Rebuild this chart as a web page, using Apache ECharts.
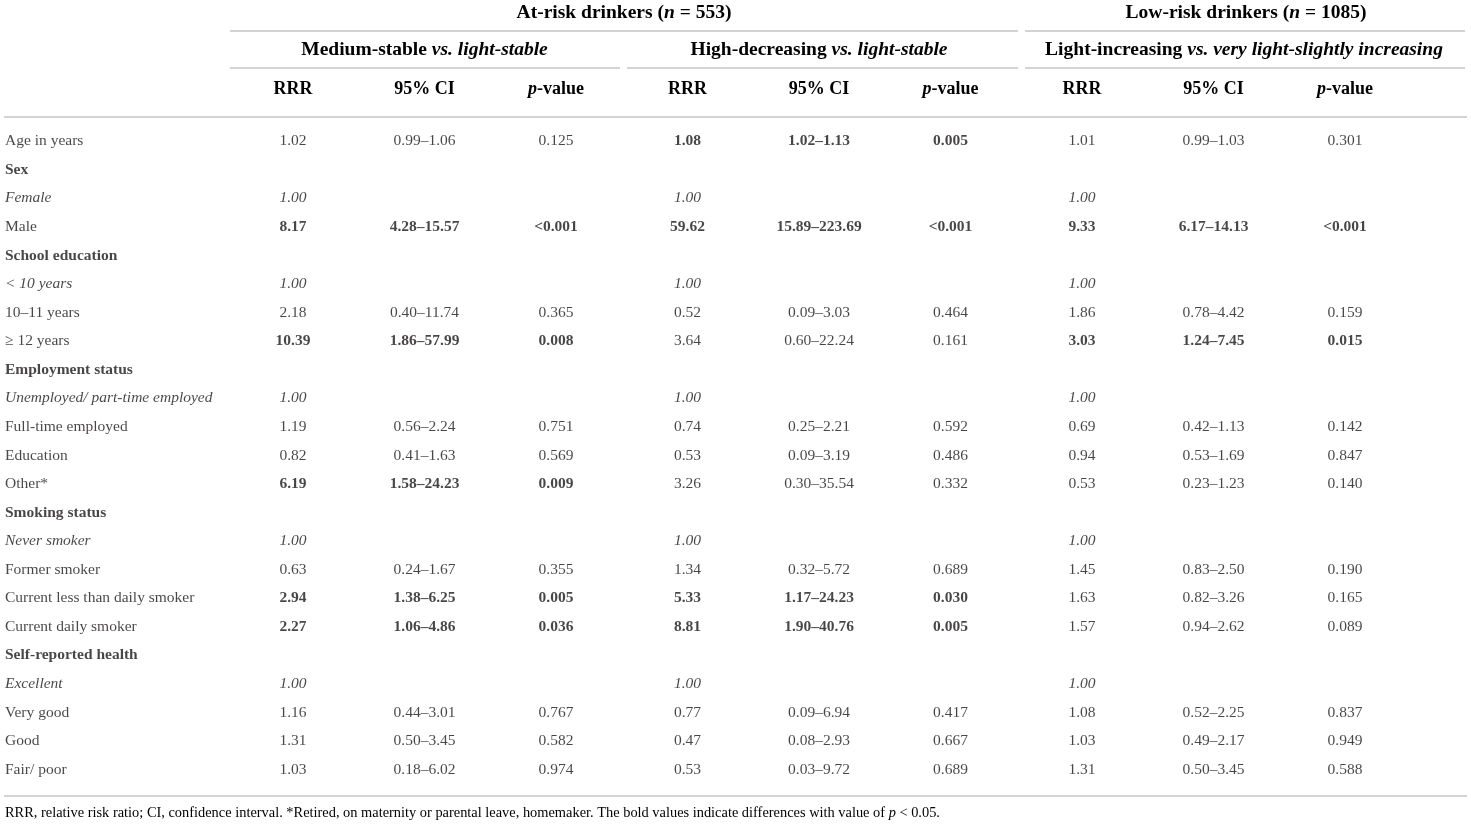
<!DOCTYPE html>
<html>
<head>
<meta charset="utf-8">
<title>Multinomial regression table</title>
<script src="https://cdn.jsdelivr.net/npm/echarts@6/dist/echarts.min.js"></script>
<style>
html,body{margin:0;padding:0;background:#fff;}
#main{width:1471px;height:825px;}
</style>
</head>
<body>
<div id="main"></div>
<script>
// row labels and how they are set (group = bold heading, ref = italic reference level)
var rowLabels = ['Age in years','Sex','Female','Male','School education','< 10 years','10–11 years','≥ 12 years',
	'Employment status','Unemployed/ part-time employed','Full-time employed','Education','Other*',
	'Smoking status','Never smoker','Former smoker','Current less than daily smoker','Current daily smoker',
	'Self-reported health','Excellent','Very good','Good','Fair/ poor'];
var rowKinds = ['item','group','ref','item','group','ref','item','item',
	'group','ref','item','item','item',
	'group','ref','item','item','item',
	'group','ref','item','item','item'];

var colHeads = ['RRR','95% CI','p-value'];

// Medium-stable vs. light-stable
var rrrA = ['1.02','','1.00','8.17','','1.00','2.18','10.39','','1.00','1.19','0.82','6.19','','1.00','0.63','2.94','2.27','','1.00','1.16','1.31','1.03'];
var ciA  = ['0.99–1.06','','','4.28–15.57','','','0.40–11.74','1.86–57.99','','','0.56–2.24','0.41–1.63','1.58–24.23','','','0.24–1.67','1.38–6.25','1.06–4.86','','','0.44–3.01','0.50–3.45','0.18–6.02'];
var pA   = ['0.125','','','<0.001','','','0.365','0.008','','','0.751','0.569','0.009','','','0.355','0.005','0.036','','','0.767','0.582','0.974'];

// High-decreasing vs. light-stable
var rrrB = ['1.08','','1.00','59.62','','1.00','0.52','3.64','','1.00','0.74','0.53','3.26','','1.00','1.34','5.33','8.81','','1.00','0.77','0.47','0.53'];
var ciB  = ['1.02–1.13','','','15.89–223.69','','','0.09–3.03','0.60–22.24','','','0.25–2.21','0.09–3.19','0.30–35.54','','','0.32–5.72','1.17–24.23','1.90–40.76','','','0.09–6.94','0.08–2.93','0.03–9.72'];
var pB   = ['0.005','','','<0.001','','','0.464','0.161','','','0.592','0.486','0.332','','','0.689','0.030','0.005','','','0.417','0.667','0.689'];

// Light-increasing vs. very light-slightly increasing
var rrrC = ['1.01','','1.00','9.33','','1.00','1.86','3.03','','1.00','0.69','0.94','0.53','','1.00','1.45','1.63','1.57','','1.00','1.08','1.03','1.31'];
var ciC  = ['0.99–1.03','','','6.17–14.13','','','0.78–4.42','1.24–7.45','','','0.42–1.13','0.53–1.69','0.23–1.23','','','0.83–2.50','0.82–3.26','0.94–2.62','','','0.52–2.25','0.49–2.17','0.50–3.45'];
var pC   = ['0.301','','','<0.001','','','0.159','0.015','','','0.142','0.847','0.140','','','0.190','0.165','0.089','','','0.837','0.949','0.588'];

var FONT = '"Liberation Serif", "DejaVu Serif", serif';
var INK = '#1a1718';
var RULE = '#d3d3d3';
var BODY = 15.5;

// column i (0..8) sits at 293 + 131.5*i px
var X0 = 293, STEP = 131.5, W = 1471;
function colX(i){ return X0 + STEP*i; }

function isSig(p){
	if(!p) return false;
	if(p.charAt(0) == '<') return true;
	return parseFloat(p) < 0.05;
}

function cellSeries(col, vals, pvals){
	var data = [];
	for(var r = 0;r<vals.length;r++){
		if(!vals[r]) continue;
		var bold = isSig(pvals[r]);
		var ref = rowKinds[r] == 'ref';
		data.push({
			name: vals[r],
			value: [col, r],
			label: {
				fontWeight: bold ? 'bold' : 'normal',
				fontStyle: ref ? 'italic' : 'normal'
			}
		});
	}
	return {
		type: 'scatter',
		symbolSize: 0,
		silent: true,
		data: data,
		label: {
			show: true,
			position: 'inside',
			align: 'center',
			verticalAlign: 'middle',
			formatter: '{b}',
			color: INK,
			fontFamily: FONT,
			fontSize: BODY
		}
	};
}

var labelData = [];
for(var r = 0;r<rowLabels.length;r++){
	labelData.push({
		name: rowLabels[r],
		value: [(5 - X0)/STEP, r],
		label: {
			fontWeight: rowKinds[r] == 'group' ? 'bold' : 'normal',
			fontStyle: rowKinds[r] == 'ref' ? 'italic' : 'normal'
		}
	});
}

var series = [{
	type: 'scatter',
	symbolSize: 0,
	silent: true,
	data: labelData,
	label: {
		show: true,
		position: 'inside',
		align: 'left',
		verticalAlign: 'middle',
		formatter: '{b}',
		color: INK,
		fontFamily: FONT,
		fontSize: BODY
	}
}];
var groups = [[rrrA,ciA,pA],[rrrB,ciB,pB],[rrrC,ciC,pC]];
for(var g = 0;g<groups.length;g++){
	for(var k = 0;k<3;k++){
		series.push(cellSeries(g*3+k, groups[g][k], groups[g][2]));
	}
}

var rich = {
	b: {fontFamily: FONT, fontSize: 19.5, fontWeight: 'bold', color: INK},
	bi: {fontFamily: FONT, fontSize: 19.5, fontWeight: 'bold', fontStyle: 'italic', color: INK},
	c: {fontFamily: FONT, fontSize: 18, fontWeight: 'bold', color: INK},
	ci: {fontFamily: FONT, fontSize: 18, fontWeight: 'bold', fontStyle: 'italic', color: INK},
	n: {fontFamily: FONT, fontSize: 14.4, color: INK},
	i: {fontFamily: FONT, fontSize: 14.4, fontStyle: 'italic', color: INK}
};

function headText(x, y, txt, align){
	return {
		type: 'text',
		x: x, y: y,
		silent: true,
		style: {
			text: txt,
			rich: rich,
			align: align || 'center',
			verticalAlign: 'middle',
			textAlign: align || 'center',
			textVerticalAlign: 'middle'
		}
	};
}
function rule(x1, x2, y){
	return {
		type: 'line',
		silent: true,
		shape: {x1: x1, y1: y, x2: x2, y2: y},
		style: {stroke: RULE, lineWidth: 2}
	};
}

var graphics = [
	headText((230+1018)/2, 13, '{b|At-risk drinkers (}{bi|n}{b| = 553)}'),
	headText(1246, 13, '{b|Low-risk drinkers (}{bi|n}{b| = 1085)}'),
	rule(230, 1018, 31), rule(1025, 1465, 31),
	headText(colX(1), 50, '{b|Medium-stable }{bi|vs. light-stable}'),
	headText(colX(4), 50, '{b|High-decreasing }{bi|vs. light-stable}'),
	headText(1244, 50, '{b|Light-increasing }{bi|vs. very light-slightly increasing}'),
	rule(230, 620, 68), rule(627, 1018, 68), rule(1025, 1465, 68),
	rule(4, 1467, 117),
	rule(4, 1467, 796),
	headText(5, 813, '{n|RRR, relative risk ratio; CI, confidence interval. *Retired, on maternity or parental leave, homemaker. The bold values indicate differences with value of }{i|p}{n| < 0.05.}', 'left')
];
for(var c = 0;c<9;c++){
	var h = colHeads[c%3];
	var t = h == 'p-value' ? '{ci|p}{c|-value}' : '{c|' + h + '}';
	graphics.push(headText(colX(c), 89, t));
}

var rowIdx = [];
for(var r = 0;r<rowLabels.length;r++) rowIdx.push(r);

var myChart = echarts.init(document.getElementById('main'));
myChart.setOption({
	animation: false,
	backgroundColor: '#fff',
	grid: {left: 0, top: 127, width: W, height: 657},
	xAxis: {
		type: 'value',
		min: -X0/STEP,
		max: (W - X0)/STEP,
		show: false
	},
	yAxis: {
		type: 'category',
		data: rowIdx,
		inverse: true,
		show: false
	},
	graphic: graphics,
	series: series
});
</script>
</body>
</html>
